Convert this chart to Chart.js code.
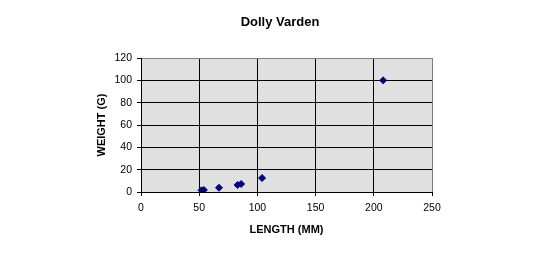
<!DOCTYPE html>
<html>
<head>
<meta charset="utf-8">
<title>Dolly Varden</title>
<script src="https://cdn.jsdelivr.net/npm/chart.js@4"></script>
<style>
  html, body { margin: 0; padding: 0; background: #fff; }
  canvas { display: block; }
</style>
</head>
<body>
<canvas id="fishChart" width="560" height="255"></canvas>
<script>
// values
const lengthMM = [52, 54, 67, 83, 86, 104, 208];
const weightG = [1.5, 1.8, 3.8, 6.3, 7.2, 12.5, 100];
const xTicks = [0, 50, 100, 150, 200, 250];
const yTicks = [0, 20, 40, 60, 80, 100, 120];

const points = lengthMM.map((x, i) => ({ x: x, y: weightG[i] }));

// grey plot area like the old excel charts
const plotBg = {
  id: 'plotBg',
  beforeDraw(chart) {
    const { ctx, chartArea: a } = chart;
    ctx.save();
    ctx.fillStyle = '#e0e0e0';
    ctx.fillRect(a.left, a.top, a.right - a.left, a.bottom - a.top);
    ctx.restore();
  }
};

const tickFont = { family: 'Arial, "Liberation Sans"', size: 10.5 };
const titleFont = { family: 'Arial, "Liberation Sans"', size: 11, weight: 'bold' };

const config = {
  type: 'scatter',
  data: {
    datasets: [{
      label: 'Dolly Varden',
      data: points,
      pointStyle: 'rectRot',
      pointRadius: 3.5,
      pointHoverRadius: 3.5,
      backgroundColor: '#000080',
      borderColor: '#000080',
      borderWidth: 1
    }]
  },
  options: {
    responsive: false,
    animation: false,
    layout: { padding: 0 },
    plugins: {
      legend: { display: false },
      tooltip: { enabled: false },
      title: {
        display: true,
        text: 'Dolly Varden',
        color: '#000',
        font: { family: 'Arial, "Liberation Sans"', size: 13, weight: 'bold' },
        padding: { top: 15, bottom: 27.4 }
      }
    },
    scales: {
      x: {
        type: 'linear',
        position: 'bottom',
        min: xTicks[0],
        max: xTicks[xTicks.length - 1],
        ticks: { stepSize: xTicks[1] - xTicks[0], color: '#000', font: tickFont, padding: 6, maxRotation: 0 },
        grid: {
          color: c => (c.tick && c.tick.value === xTicks[xTicks.length - 1]) ? '#808080' : '#000',
          tickColor: '#000',
          tickLength: 4,
          lineWidth: 1
        },
        border: { color: '#000', width: 1 },
        title: { display: true, text: 'LENGTH (MM)', color: '#000', font: titleFont, padding: { top: 0, bottom: 18 } },
        afterFit: s => { s.height = 63; }
      },
      y: {
        type: 'linear',
        position: 'left',
        min: yTicks[0],
        max: yTicks[yTicks.length - 1],
        ticks: { stepSize: yTicks[1] - yTicks[0], color: '#000', font: tickFont, padding: 5 },
        grid: {
          color: c => (c.tick && c.tick.value === yTicks[yTicks.length - 1]) ? '#808080' : '#000',
          tickColor: '#000',
          tickLength: 4,
          lineWidth: 1
        },
        border: { color: '#000', width: 1 },
        title: { display: true, text: 'WEIGHT (G)', color: '#000', font: titleFont, padding: { top: 95, bottom: 0 } },
        afterFit: s => { s.width = 141; }
      },
      // empty axis on the right, only to hold the white margin
      rightPad: {
        type: 'linear',
        position: 'right',
        display: true,
        grid: { display: false, drawTicks: false },
        ticks: { display: false },
        border: { display: false },
        afterFit: s => { s.width = 128; }
      }
    }
  },
  plugins: [plotBg]
};

window.addEventListener('DOMContentLoaded', () => {
  const ctx = document.getElementById('fishChart').getContext('2d');
  new Chart(ctx, config);
});
</script>
</body>
</html>
